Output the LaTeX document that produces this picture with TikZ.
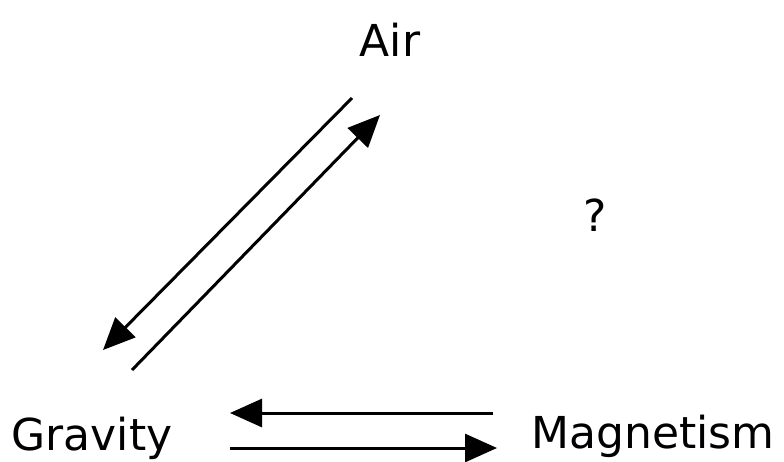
\documentclass[tikz,border=0pt]{standalone}
\usepackage{fontspec}
\setmainfont{DejaVu Sans}
\usetikzlibrary{arrows.meta}
\begin{document}
\begin{tikzpicture}[x=1pt,y=-1pt,
  lbl/.style={font=\fontsize{44}{50}\selectfont, inner sep=0pt, anchor=base},
  conn/.style={line width=3pt, -{Triangle[length=32pt,width=28pt]}}]
\useasboundingbox (0,0) rectangle (784,461);
\node[lbl] (air) at (390,56) {Air};
\node[lbl] (grav) at (92,450) {Gravity};
\node[lbl] (mag) at (653,448) {Magnetism};
\node[lbl] (q) at (595,231) {?};
\coordinate (a1s) at (352,98);
\coordinate (a1e) at (103,350);
\coordinate (a2s) at (132,370);
\coordinate (a2e) at (380,115);
\coordinate (h1s) at (493,413);
\coordinate (h1e) at (230,413);
\coordinate (h2s) at (230,448);
\coordinate (h2e) at (497,448);
\draw[conn] (a1s) -- (a1e);
\draw[conn] (a2s) -- (a2e);
\draw[conn] (h1s) -- (h1e);
\draw[conn] (h2s) -- (h2e);
\end{tikzpicture}
\end{document}
